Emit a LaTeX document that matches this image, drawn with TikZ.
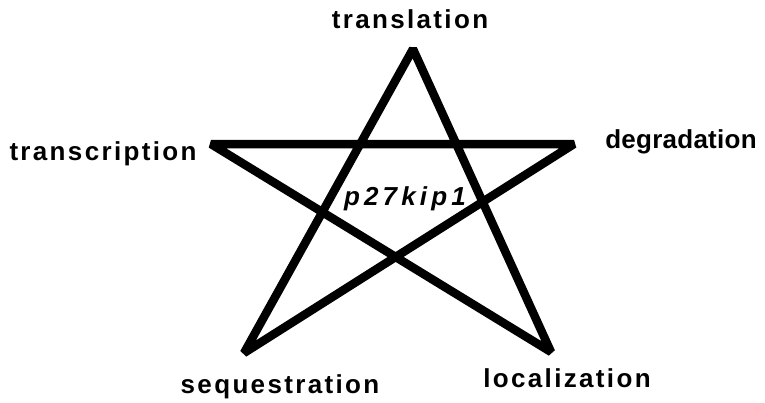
\documentclass[tikz,border=0pt]{standalone}
\usepackage{fontspec}
\setmainfont{Liberation Sans}
\newfontfamily\widefont[LetterSpace=9]{Liberation Sans}
\newfontfamily\tightfont[LetterSpace=1]{Liberation Sans}
\newfontfamily\kipfont[LetterSpace=16]{Liberation Sans}

\begin{document}
\begin{tikzpicture}[x=1pt,y=-1pt,
  starline/.style={line width=8.5pt,line join=bevel},
  proc/.style={anchor=base,inner sep=0pt,font=\fontsize{26}{30}\selectfont\widefont\bfseries}]

 \useasboundingbox (0,0) rectangle (765,402);

 % star corners
 \coordinate (T) at (413,49);
 \coordinate (L) at (211,144);
 \coordinate (R) at (574,144);
 \coordinate (BL) at (244,353);
 \coordinate (BR) at (551,352);

 \draw[starline] (T) -- (BL) -- (R) -- (L) -- (BR) -- cycle;

 \node[proc] (translation) at (410,28) {translation};
 \node[proc] (transcription) at (103,160) {transcription};
 \node[proc,font=\fontsize{26}{30}\selectfont\tightfont\bfseries] (degradation) at (681,148) {degradation};
 \node[proc] (sequestration) at (280,393) {sequestration};
 \node[proc] (localization) at (567,387) {localization};
 \node[proc,font=\fontsize{26}{30}\selectfont\kipfont\bfseries\itshape] (kip) at (405,205) {p27kip1};

\end{tikzpicture}
\end{document}
